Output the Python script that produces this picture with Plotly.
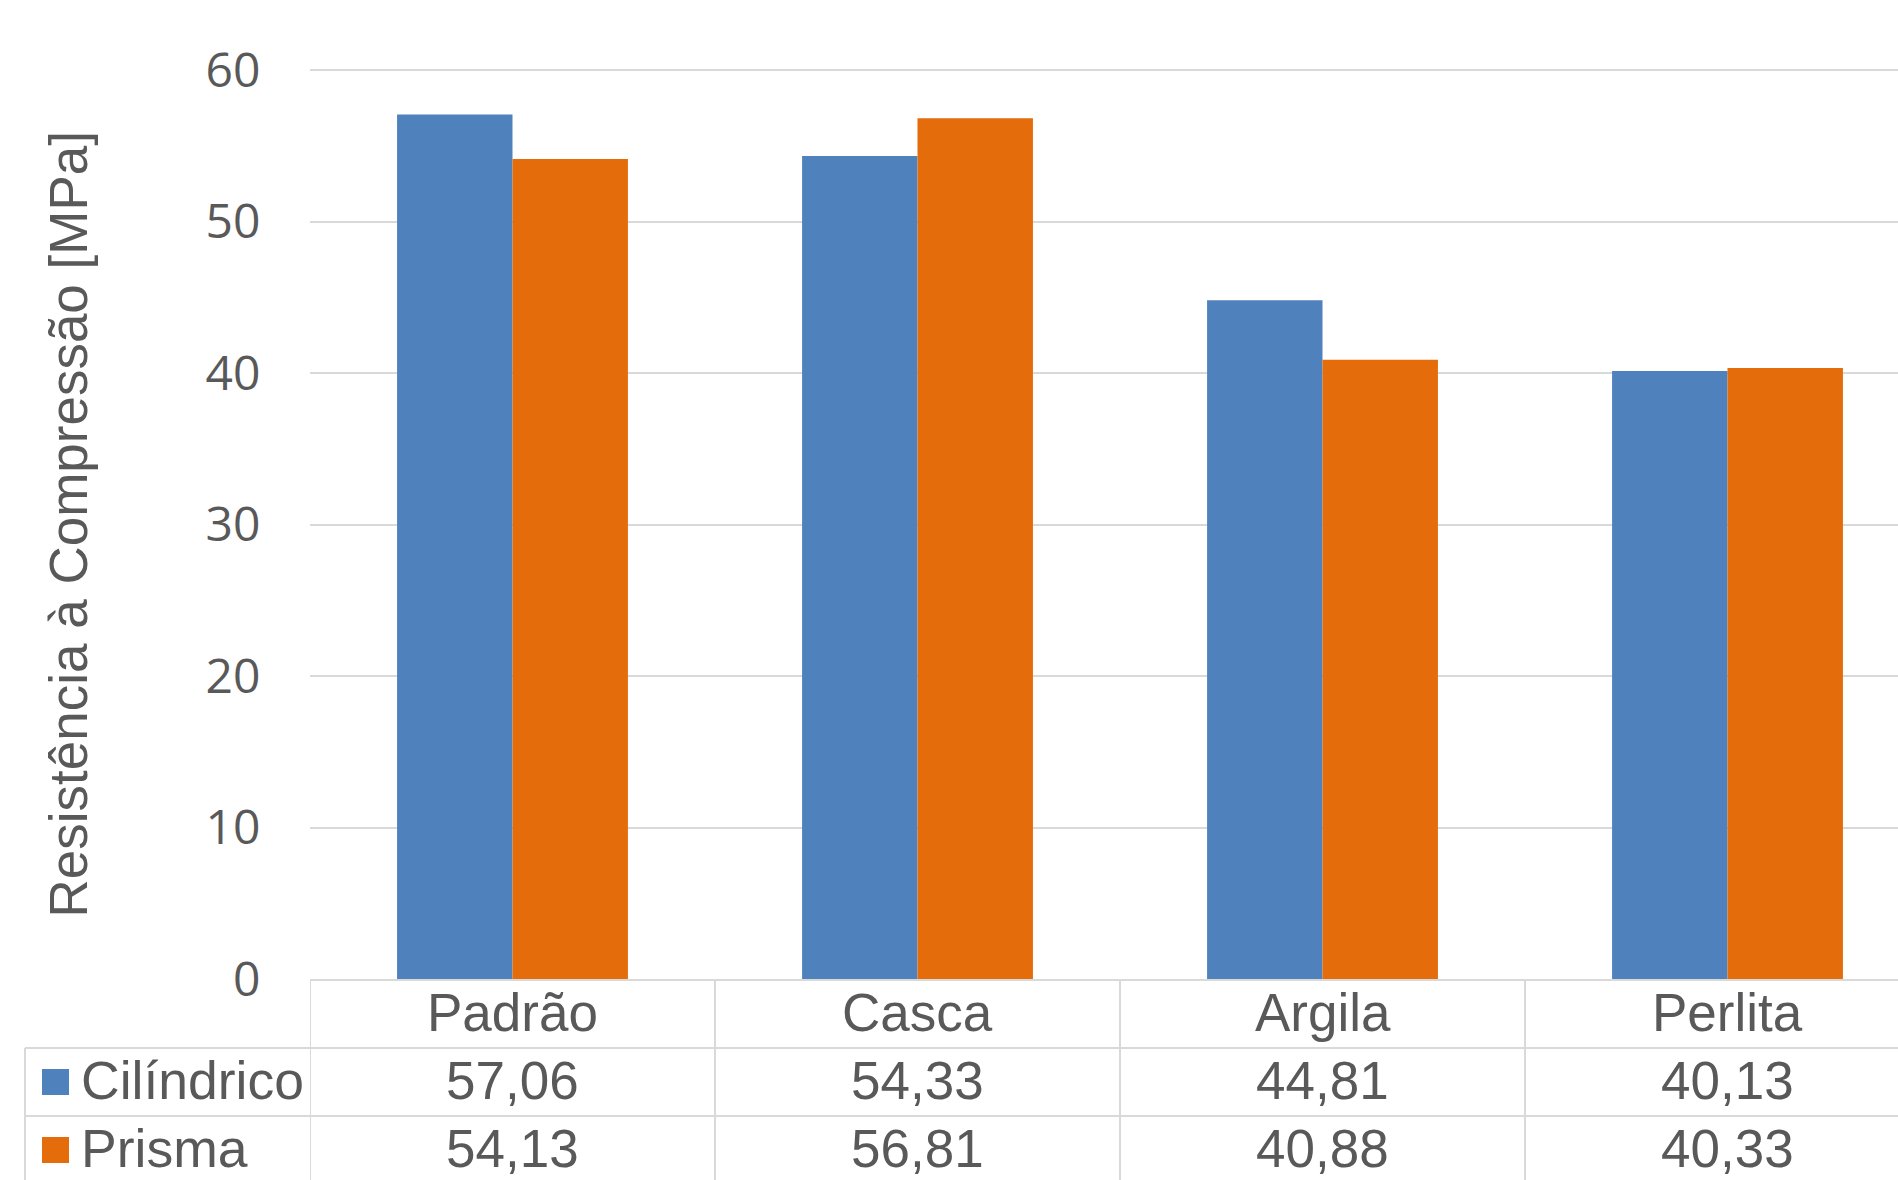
import plotly.graph_objects as go

# ---- data ----
categories = ["Padrão", "Casca", "Argila", "Perlita"]
series_names = ["Cilíndrico", "Prisma"]
cilindrico = [57.06, 54.33, 44.81, 40.13]
prisma = [54.13, 56.81, 40.88, 40.33]
y_ticks = [0, 10, 20, 30, 40, 50, 60]
y_title = "Resistência à Compressão [MPa]"

# ---- styles / layout constants ----
W, H = 1898, 1180
PL, PB = 310, 979                   # plot left, bottom (px)
Y60_PX = 70                         # pixel row of the top tick (60)
PT = 66                             # plot top (px), a little above the top gridline
CAT_W = 405                         # px per category
colors = ["#4F81BD", "#E46C0A"]
TXT = "#595959"
GRID = "#D9D9D9"
FONT_LBL = "Liberation Sans, Arial, sans-serif"
FONT_TICK = "Open Sans, sans-serif"

plot_w = W - PL
plot_h = PB - PT
x_max = -0.5 + plot_w / CAT_W
y_top = max(y_ticks) * plot_h / (PB - Y60_PX)


def py(p):
    """pixel y -> paper y"""
    return (PB - p) / plot_h


def px(p):
    """pixel x -> paper x"""
    return (p - PL) / plot_w


fig = go.Figure()
for name, vals, col in zip(series_names, [cilindrico, prisma], colors):
    fig.add_trace(go.Bar(x=categories, y=vals, name=name,
                         marker=dict(color=col, line=dict(width=0))))

shapes = []
annotations = []

# table row geometry (px)
row_lines = [1048, 1116]
row_centers = [1012, 1080, 1148]
table_bottom = H + 20
legend_left = 25

# horizontal lines
shapes.append(dict(type="line", xref="paper", yref="paper", x0=0, x1=1.02,
                   y0=py(PB + 1), y1=py(PB + 1), line=dict(color=GRID, width=2)))
for rl in row_lines:
    shapes.append(dict(type="line", xref="paper", yref="paper", x0=px(legend_left), x1=1.02,
                       y0=py(rl), y1=py(rl), line=dict(color=GRID, width=2)))
# vertical lines at category boundaries
for i in range(len(categories) + 1):
    shapes.append(dict(type="line", xref="x", yref="paper", x0=i - 0.5, x1=i - 0.5,
                       y0=0, y1=py(table_bottom), line=dict(color=GRID, width=2)))
# legend column left border
shapes.append(dict(type="line", xref="paper", yref="paper", x0=px(legend_left), x1=px(legend_left),
                   y0=py(row_lines[0]), y1=py(table_bottom), line=dict(color=GRID, width=2)))

# category labels
for c in categories:
    annotations.append(dict(x=c, xref="x", y=py(row_centers[0]), yref="paper", text=c,
                            showarrow=False, xanchor="center", yanchor="middle",
                            font=dict(family=FONT_LBL, size=53, color=TXT)))
# values + legend keys
for r, (name, vals, col) in enumerate(zip(series_names, [cilindrico, prisma], colors)):
    yc = row_centers[r + 1]
    for c, v in zip(categories, vals):
        annotations.append(dict(x=c, xref="x", y=py(yc), yref="paper",
                                text=f"{v:.2f}".replace(".", ","), showarrow=False,
                                xanchor="center", yanchor="middle",
                                font=dict(family=FONT_LBL, size=53, color=TXT)))
    shapes.append(dict(type="rect", xref="paper", yref="paper", x0=px(42), x1=px(69),
                       y0=py(yc + 2 - 13), y1=py(yc + 2 + 13), fillcolor=col, line=dict(width=0)))
    annotations.append(dict(x=px(79), xref="paper", y=py(yc), yref="paper", text=name,
                            showarrow=False, xanchor="left", yanchor="middle",
                            font=dict(family=FONT_LBL, size=53.5, color=TXT)))

# y axis title
annotations.append(dict(x=px(68), xref="paper", y=py((Y60_PX + PB) / 2), yref="paper", text=y_title,
                        textangle=-90, showarrow=False, xanchor="center", yanchor="middle",
                        font=dict(family=FONT_LBL, size=53, color=TXT)))

fig.update_layout(
    width=W, height=H,
    margin=dict(l=PL, r=0, t=PT, b=H - PB, pad=0),
    paper_bgcolor="white", plot_bgcolor="white",
    barmode="group", bargap=0.43, bargroupgap=0,
    showlegend=False,
    shapes=shapes, annotations=annotations,
    xaxis=dict(range=[-0.5, x_max], showticklabels=False, showgrid=False,
               zeroline=False, showline=False, ticks="", fixedrange=True),
    yaxis=dict(range=[0, y_top], tickvals=y_ticks, showgrid=True, gridcolor=GRID, gridwidth=2,
               zeroline=False, showline=False, ticks="outside", ticklen=39,
               tickcolor="rgba(0,0,0,0)",
               tickfont=dict(family=FONT_TICK, size=48, color=TXT)),
)

fig.write_html("out.html")
